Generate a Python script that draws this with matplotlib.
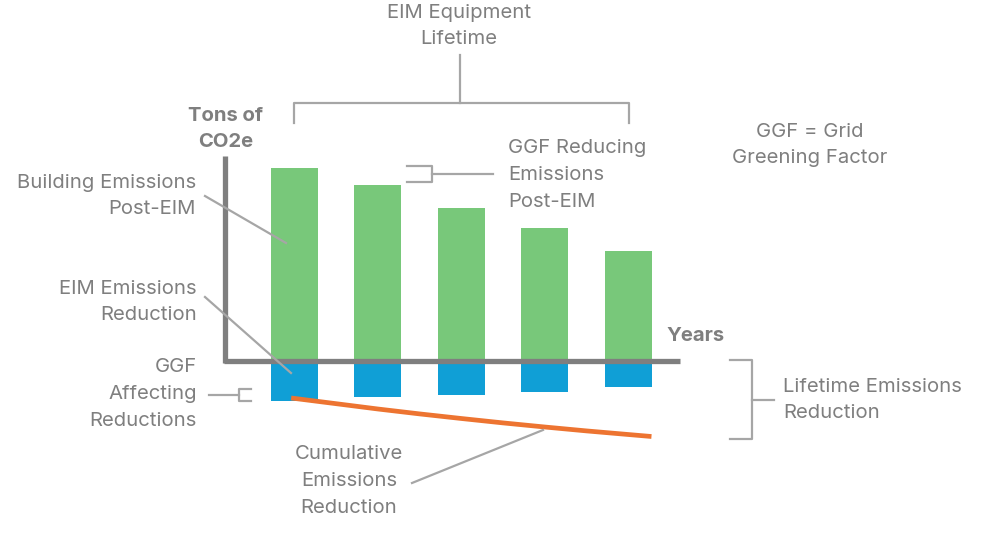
import matplotlib.pyplot as plt
from matplotlib.lines import Line2D

# --- data ---
years = [1, 2, 3, 4, 5]
building_post_eim = [19.3, 17.6, 15.3, 13.3, 11.0]    # green, above axis
eim_reduction = [-4.0, -3.6, -3.4, -3.1, -2.6]        # blue, below axis
cum_x = [0.96, 1.5, 2, 2.5, 3, 3.5, 4, 4.5, 5, 5.28]
cum_reduction = [-3.75, -4.32, -4.85, -5.34, -5.8, -6.24, -6.65, -7.04, -7.4, -7.6]

GREEN = "#78c87a"
BLUE = "#109fd6"
ORANGE = "#ed7431"
AXGRAY = "#7f7f7f"
TXT = "#7f7f7f"
LINE = "#a6a6a6"

W, H = 987, 534
plt.rcParams["font.family"] = ["Inter", "DejaVu Sans"]

fig = plt.figure(figsize=(W / 100, H / 100), dpi=100)
ax = fig.add_axes([0, 0, 1, 1])
ax.set_xlim(-2.531, 9.303)
ax.set_ylim(-17.35, 36.05)
ax.axis("off")

ax.bar(years, building_post_eim, width=0.565, color=GREEN, zorder=2)
ax.bar(years, eim_reduction, width=0.565, color=BLUE, zorder=2)
ax.plot(cum_x, cum_reduction, color=ORANGE, lw=3.4, solid_capstyle="butt",
        solid_joinstyle="round", zorder=3)

# axes of the diagram
x0, ytop, xend = 0.17, 20.45, 5.62
ax.plot([x0, x0], [ytop, -0.25], color=AXGRAY, lw=3.8, solid_capstyle="butt", zorder=4)
ax.plot([x0 - 0.02, xend], [0, 0], color=AXGRAY, lw=3.8, solid_capstyle="butt", zorder=4)


def P(x, y):
    return x / W, 1 - y / H


def seg(pts, color=LINE, lw=1.6):
    xs, ys = zip(*[P(*p) for p in pts])
    fig.add_artist(Line2D(xs, ys, color=color, lw=lw, transform=fig.transFigure))


def label(x, y, s, ha="left", bold=False):
    fig.text(*P(x, y), s, ha=ha, va="center", fontsize=14.6, color=TXT,
             fontweight="bold" if bold else "normal", linespacing=1.62)


# text blocks
label(459, 26, "EIM Equipment\nLifetime", ha="center")
label(226, 129, "Tons of\nCO2e", ha="center", bold=True)
label(696, 336, "Years", ha="center", bold=True)
label(810, 145, "GGF = Grid\nGreening Factor", ha="center")
label(508, 175, "GGF Reducing\nEmissions\nPost-EIM")
label(196, 196, "Building Emissions\nPost-EIM", ha="right")
label(197, 302, "EIM Emissions\nReduction", ha="right")
label(197, 394, "GGF\nAffecting\nReductions", ha="right")
label(783, 400, "Lifetime Emissions\nReduction")
label(349, 481, "Cumulative\nEmissions\nReduction", ha="center")

# brackets and leader lines
seg([(460, 55), (460, 103)])
seg([(294, 123), (294, 103), (629, 103), (629, 123)])
seg([(407, 166), (432, 166), (432, 182), (407, 182)])
seg([(432, 174), (493, 174)])
seg([(205, 196), (286, 243)])
seg([(205, 297), (291, 373)])
seg([(209, 395), (239, 395)])
seg([(251, 389), (239, 389), (239, 401), (251, 401)])
seg([(730, 360), (752, 360), (752, 439), (730, 439)])
seg([(752, 400), (774, 400)])
seg([(412, 483), (543, 430)])

fig.savefig("out.png", dpi=100)
